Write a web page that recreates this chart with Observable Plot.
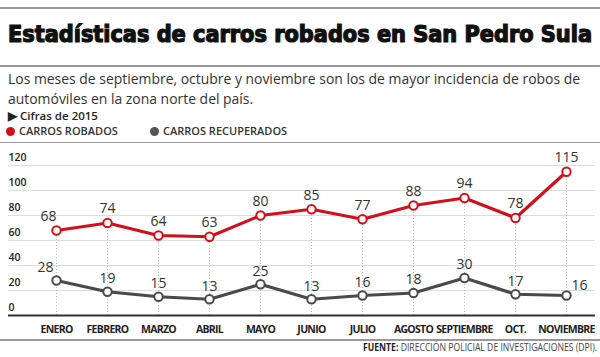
<!DOCTYPE html>
<html>
<head>
<meta charset="utf-8">
<script src="https://cdn.jsdelivr.net/npm/d3@7"></script>
<script src="https://cdn.jsdelivr.net/npm/@observablehq/plot@0.6"></script>
<style>
  html, body { margin: 0; padding: 0; background: #fff; }
  body { width: 600px; height: 357px; position: relative; overflow: hidden; font-family: "Open Sans", sans-serif; color: #333; }
  .rule { position: absolute; left: 0; width: 600px; height: 0; border-top: 2px solid #999; }
  #title { position: absolute; left: 8px; top: 21px; line-height: 26px; white-space: nowrap; font-family: "DejaVu Sans Condensed", "DejaVu Sans", sans-serif; font-weight: bold; font-size: 22.5px; color: #111; transform-origin: 0 0; -webkit-text-stroke: 1.2px #111; }
  .sub { position: absolute; left: 8px; font-size: 14.5px; line-height: 18px; color: #333; white-space: nowrap; transform-origin: 0 0; }
  #cifras { position: absolute; left: 8px; top: 108px; font-size: 11.5px; line-height: 15px; font-weight: 600; color: #222; }
  .leg { position: absolute; top: 124px; font-size: 11px; line-height: 14px; font-weight: 600; color: #333; }
  .dot { display: inline-block; width: 9px; height: 9px; border-radius: 50%; margin-right: 4px; vertical-align: -1px; }
  #chart { position: absolute; left: 0; top: 144px; }
  #source { position: absolute; left: 363px; top: 341px; font-size: 10px; line-height: 13px; color: #444; white-space: nowrap; transform-origin: 0 0; }
</style>
</head>
<body>
<div class="rule" style="top:7px"></div>
<div id="title">Estadísticas de carros robados en San Pedro Sula</div>
<div class="rule" style="top:65px"></div>
<div id="sub1" class="sub" style="top:70px">Los meses de septiembre, octubre y noviembre son los de mayor incidencia de robos de</div>
<div id="sub2" class="sub" style="top:90px">automóviles en la zona norte del país.</div>
<div id="cifras">▶ Cifras de 2015</div>
<div class="leg" style="left:6px"><span class="dot" style="background:#d2101c"></span>CARROS ROBADOS</div>
<div class="leg" style="left:150px"><span class="dot" style="background:#555"></span>CARROS RECUPERADOS</div>
<div class="rule" style="top:142px; border-top-width:1.5px"></div>
<div id="chart"></div>
<div class="rule" style="top:339px"></div>
<div id="source"><b style="color:#222">FUENTE:</b> DIRECCIÓN POLICIAL DE INVESTIGACIONES (DPI).</div>
<script>
const months = ["ENERO","FEBRERO","MARZO","ABRIL","MAYO","JUNIO","JULIO","AGOSTO","SEPTIEMBRE","OCT.","NOVIEMBRE"];
const robados = [68, 74, 64, 63, 80, 85, 77, 88, 94, 78, 115];
const recuperados = [28, 19, 15, 13, 25, 13, 16, 18, 30, 17, 16];
const yTicks = [0, 20, 40, 60, 80, 100, 120];

const red = "#d2101c", gray = "#4a4a4a";
const rob = months.map((m, i) => ({month: m, value: robados[i], i}));
const rec = months.map((m, i) => ({month: m, value: recuperados[i], i}));

// label nudges (style only)
const robDx = i => (i === 0 ? -8 : 0);
const recDx = i => (i === 0 ? -11 : i === 10 ? 13 : 0);
const recDy = i => (i === 10 ? -10 : -13);

const plot = Plot.plot({
  width: 600,
  height: 196,
  marginLeft: 8,
  marginRight: 5,
  marginTop: 21,
  marginBottom: 25,
  style: {fontFamily: "Open Sans, sans-serif", color: "#333", background: "transparent", overflow: "visible"},
  x: {type: "point", domain: months, insetLeft: 44, insetRight: 25, padding: 0, axis: null},
  y: {domain: [0, 120], axis: null},
  marks: [
    Plot.ruleY(yTicks.filter(d => d > 0), {stroke: "#ddd", strokeWidth: 1}),
    Plot.text(yTicks, {y: d => d, text: d => String(d), frameAnchor: "left", textAnchor: "start", dy: -8, fontSize: 10.5, fontWeight: 600, fill: "#222"}),
    Plot.ruleX(rob, {x: "month", y1: 0, y2: "value", stroke: "#bbb", strokeWidth: 1, strokeDasharray: "1,2"}),
    Plot.ruleY([0], {stroke: "#333", strokeWidth: 2}),
    Plot.line(rob, {x: "month", y: "value", stroke: red, strokeWidth: 3.2}),
    Plot.line(rec, {x: "month", y: "value", stroke: gray, strokeWidth: 3.2}),
    Plot.dot(rob, {x: "month", y: "value", r: 4.2, fill: "white", stroke: red, strokeWidth: 2}),
    Plot.dot(rec, {x: "month", y: "value", r: 4.2, fill: "white", stroke: gray, strokeWidth: 2}),
    ...rob.map(d => Plot.text([d], {x: "month", y: "value", text: d => String(d.value), dy: -14, dx: robDx(d.i), fontSize: 14, fill: "#333"})),
    ...rec.map(d => Plot.text([d], {x: "month", y: "value", text: d => String(d.value), dy: recDy(d.i), dx: recDx(d.i), fontSize: 14, fill: "#333"})),
    Plot.text(months, {x: d => d, text: d => d, frameAnchor: "bottom", lineAnchor: "middle", dy: 14.5, fontSize: 10.5, fontWeight: 700, fill: "#222"})
  ]
});
d3.select(plot).selectAll("text")
  .filter(function () { return months.includes(this.textContent); })
  .attr("letter-spacing", "-0.7");
document.getElementById("chart").appendChild(plot);

// fit header/footer texts to the widths seen in the reference
function fit(id, target) {
  const el = document.getElementById(id);
  const w = el.getBoundingClientRect().width;
  el.style.transform = `scaleX(${target / w})`;
  return target / w;
}
fit("title", 584);
const k = fit("sub1", 572);
document.getElementById("sub2").style.transform = `scaleX(${k})`;
fit("source", 234);
</script>
</body>
</html>
